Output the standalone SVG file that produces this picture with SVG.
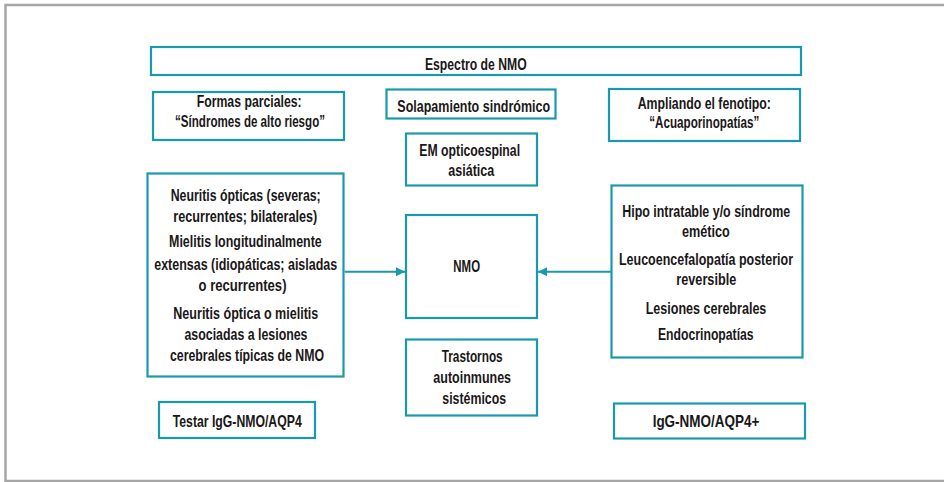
<svg xmlns="http://www.w3.org/2000/svg" width="944" height="482" viewBox="0 0 944 482">
<defs>
<style>
.box{fill:#ffffff;stroke:#1a98ac;stroke-width:2.2}
.t{font-family:"Liberation Sans",Arial,sans-serif;font-weight:bold;font-size:17px;fill:#1a1718;text-anchor:middle}
.conn{stroke:#1a98ac;stroke-width:2;fill:none}
.frame{stroke:#a6a6a6;stroke-width:2.5;fill:none}
</style>
<marker id="ah" viewBox="0 0 10 10" refX="10" refY="5" markerWidth="9" markerHeight="10" markerUnits="userSpaceOnUse" orient="auto">
<path d="M0,0 L10,5 L0,10 Z" fill="#1a98ac"/>
</marker>
</defs>
<rect x="0" y="0" width="944" height="482" fill="#ffffff"/>
<path class="frame" d="M950,5 H5.5 V481 H950"/>

<g id="connectors">
<line class="conn" x1="344.5" y1="271.7" x2="405" y2="271.7" marker-end="url(#ah)"/>
<line class="conn" x1="611" y1="271.7" x2="538" y2="271.7" marker-end="url(#ah)"/>
</g>

<g id="espectro">
<rect class="box" x="151" y="47" width="650" height="28"/>
<text class="t" x="475.8" y="69.5" textLength="101.7" lengthAdjust="spacingAndGlyphs">Espectro de NMO</text>
</g>

<g id="formas">
<rect class="box" x="153" y="92" width="191" height="48"/>
<text class="t" x="249.2" y="107.3" textLength="105" lengthAdjust="spacingAndGlyphs">Formas parciales:</text>
<text class="t" x="250" y="126.7" textLength="150" lengthAdjust="spacingAndGlyphs">“Síndromes de alto riesgo”</text>
</g>

<g id="solapamiento">
<rect class="box" x="386.5" y="89.5" width="169" height="29"/>
<text class="t" x="473.7" y="111.5" textLength="152.7" lengthAdjust="spacingAndGlyphs">Solapamiento sindrómico</text>
</g>

<g id="em">
<rect class="box" x="406" y="133.5" width="131" height="52"/>
<text class="t" x="469.7" y="155.7" textLength="100.7" lengthAdjust="spacingAndGlyphs">EM opticoespinal</text>
<text class="t" x="471.3" y="175.7" textLength="46" lengthAdjust="spacingAndGlyphs">asiática</text>
</g>

<g id="ampliando">
<rect class="box" x="609" y="89" width="191" height="52"/>
<text class="t" x="704.3" y="108.5" textLength="133.3" lengthAdjust="spacingAndGlyphs">Ampliando el fenotipo:</text>
<text class="t" x="704.3" y="128" textLength="110" lengthAdjust="spacingAndGlyphs">“Acuaporinopatías”</text>
</g>

<g id="parciales">
<rect class="box" x="147.5" y="173.5" width="196" height="203"/>
<text class="t" x="245.7" y="200.7" textLength="150" lengthAdjust="spacingAndGlyphs">Neuritis ópticas (severas;</text>
<text class="t" x="245.3" y="221.7" textLength="144" lengthAdjust="spacingAndGlyphs">recurrentes; bilaterales)</text>
<text class="t" x="245.4" y="247.3" textLength="152.7" lengthAdjust="spacingAndGlyphs">Mielitis longitudinalmente</text>
<text class="t" x="245.7" y="270" textLength="183" lengthAdjust="spacingAndGlyphs">extensas (idiopáticas; aisladas</text>
<text class="t" x="242.5" y="290.7" textLength="88" lengthAdjust="spacingAndGlyphs">o recurrentes)</text>
<text class="t" x="245.8" y="319" textLength="145" lengthAdjust="spacingAndGlyphs">Neuritis óptica o mielitis</text>
<text class="t" x="246" y="340" textLength="123" lengthAdjust="spacingAndGlyphs">asociadas a lesiones</text>
<text class="t" x="247" y="360.7" textLength="154" lengthAdjust="spacingAndGlyphs">cerebrales típicas de NMO</text>
</g>

<g id="nmo">
<rect class="box" x="406" y="215" width="131" height="103"/>
<text class="t" x="466.7" y="272.3" textLength="26.7" lengthAdjust="spacingAndGlyphs">NMO</text>
</g>

<g id="trastornos">
<rect class="box" x="406" y="339.5" width="131" height="76"/>
<text class="t" x="472.2" y="361.7" textLength="61" lengthAdjust="spacingAndGlyphs">Trastornos</text>
<text class="t" x="472.2" y="383.3" textLength="77.7" lengthAdjust="spacingAndGlyphs">autoinmunes</text>
<text class="t" x="474.2" y="404" textLength="63.7" lengthAdjust="spacingAndGlyphs">sistémicos</text>
</g>

<g id="acuaporinopatias">
<rect class="box" x="611.5" y="185.5" width="191" height="172"/>
<text class="t" x="706.2" y="216.5" textLength="168" lengthAdjust="spacingAndGlyphs">Hipo intratable y/o síndrome</text>
<text class="t" x="705.8" y="237.3" textLength="47.7" lengthAdjust="spacingAndGlyphs">emético</text>
<text class="t" x="706" y="264.7" textLength="174" lengthAdjust="spacingAndGlyphs">Leucoencefalopatía posterior</text>
<text class="t" x="706.3" y="284.7" textLength="60" lengthAdjust="spacingAndGlyphs">reversible</text>
<text class="t" x="706" y="313.7" textLength="120.7" lengthAdjust="spacingAndGlyphs">Lesiones cerebrales</text>
<text class="t" x="705.8" y="339.7" textLength="95.7" lengthAdjust="spacingAndGlyphs">Endocrinopatías</text>
</g>

<g id="testar">
<rect class="box" x="159" y="402" width="156" height="36"/>
<text class="t" x="237.2" y="426.7" textLength="129" lengthAdjust="spacingAndGlyphs">Testar IgG-NMO/AQP4</text>
</g>

<g id="igg">
<rect class="box" x="614" y="403.5" width="191" height="35"/>
<text class="t" x="706" y="426.5" textLength="106.7" lengthAdjust="spacingAndGlyphs">IgG-NMO/AQP4+</text>
</g>
</svg>
